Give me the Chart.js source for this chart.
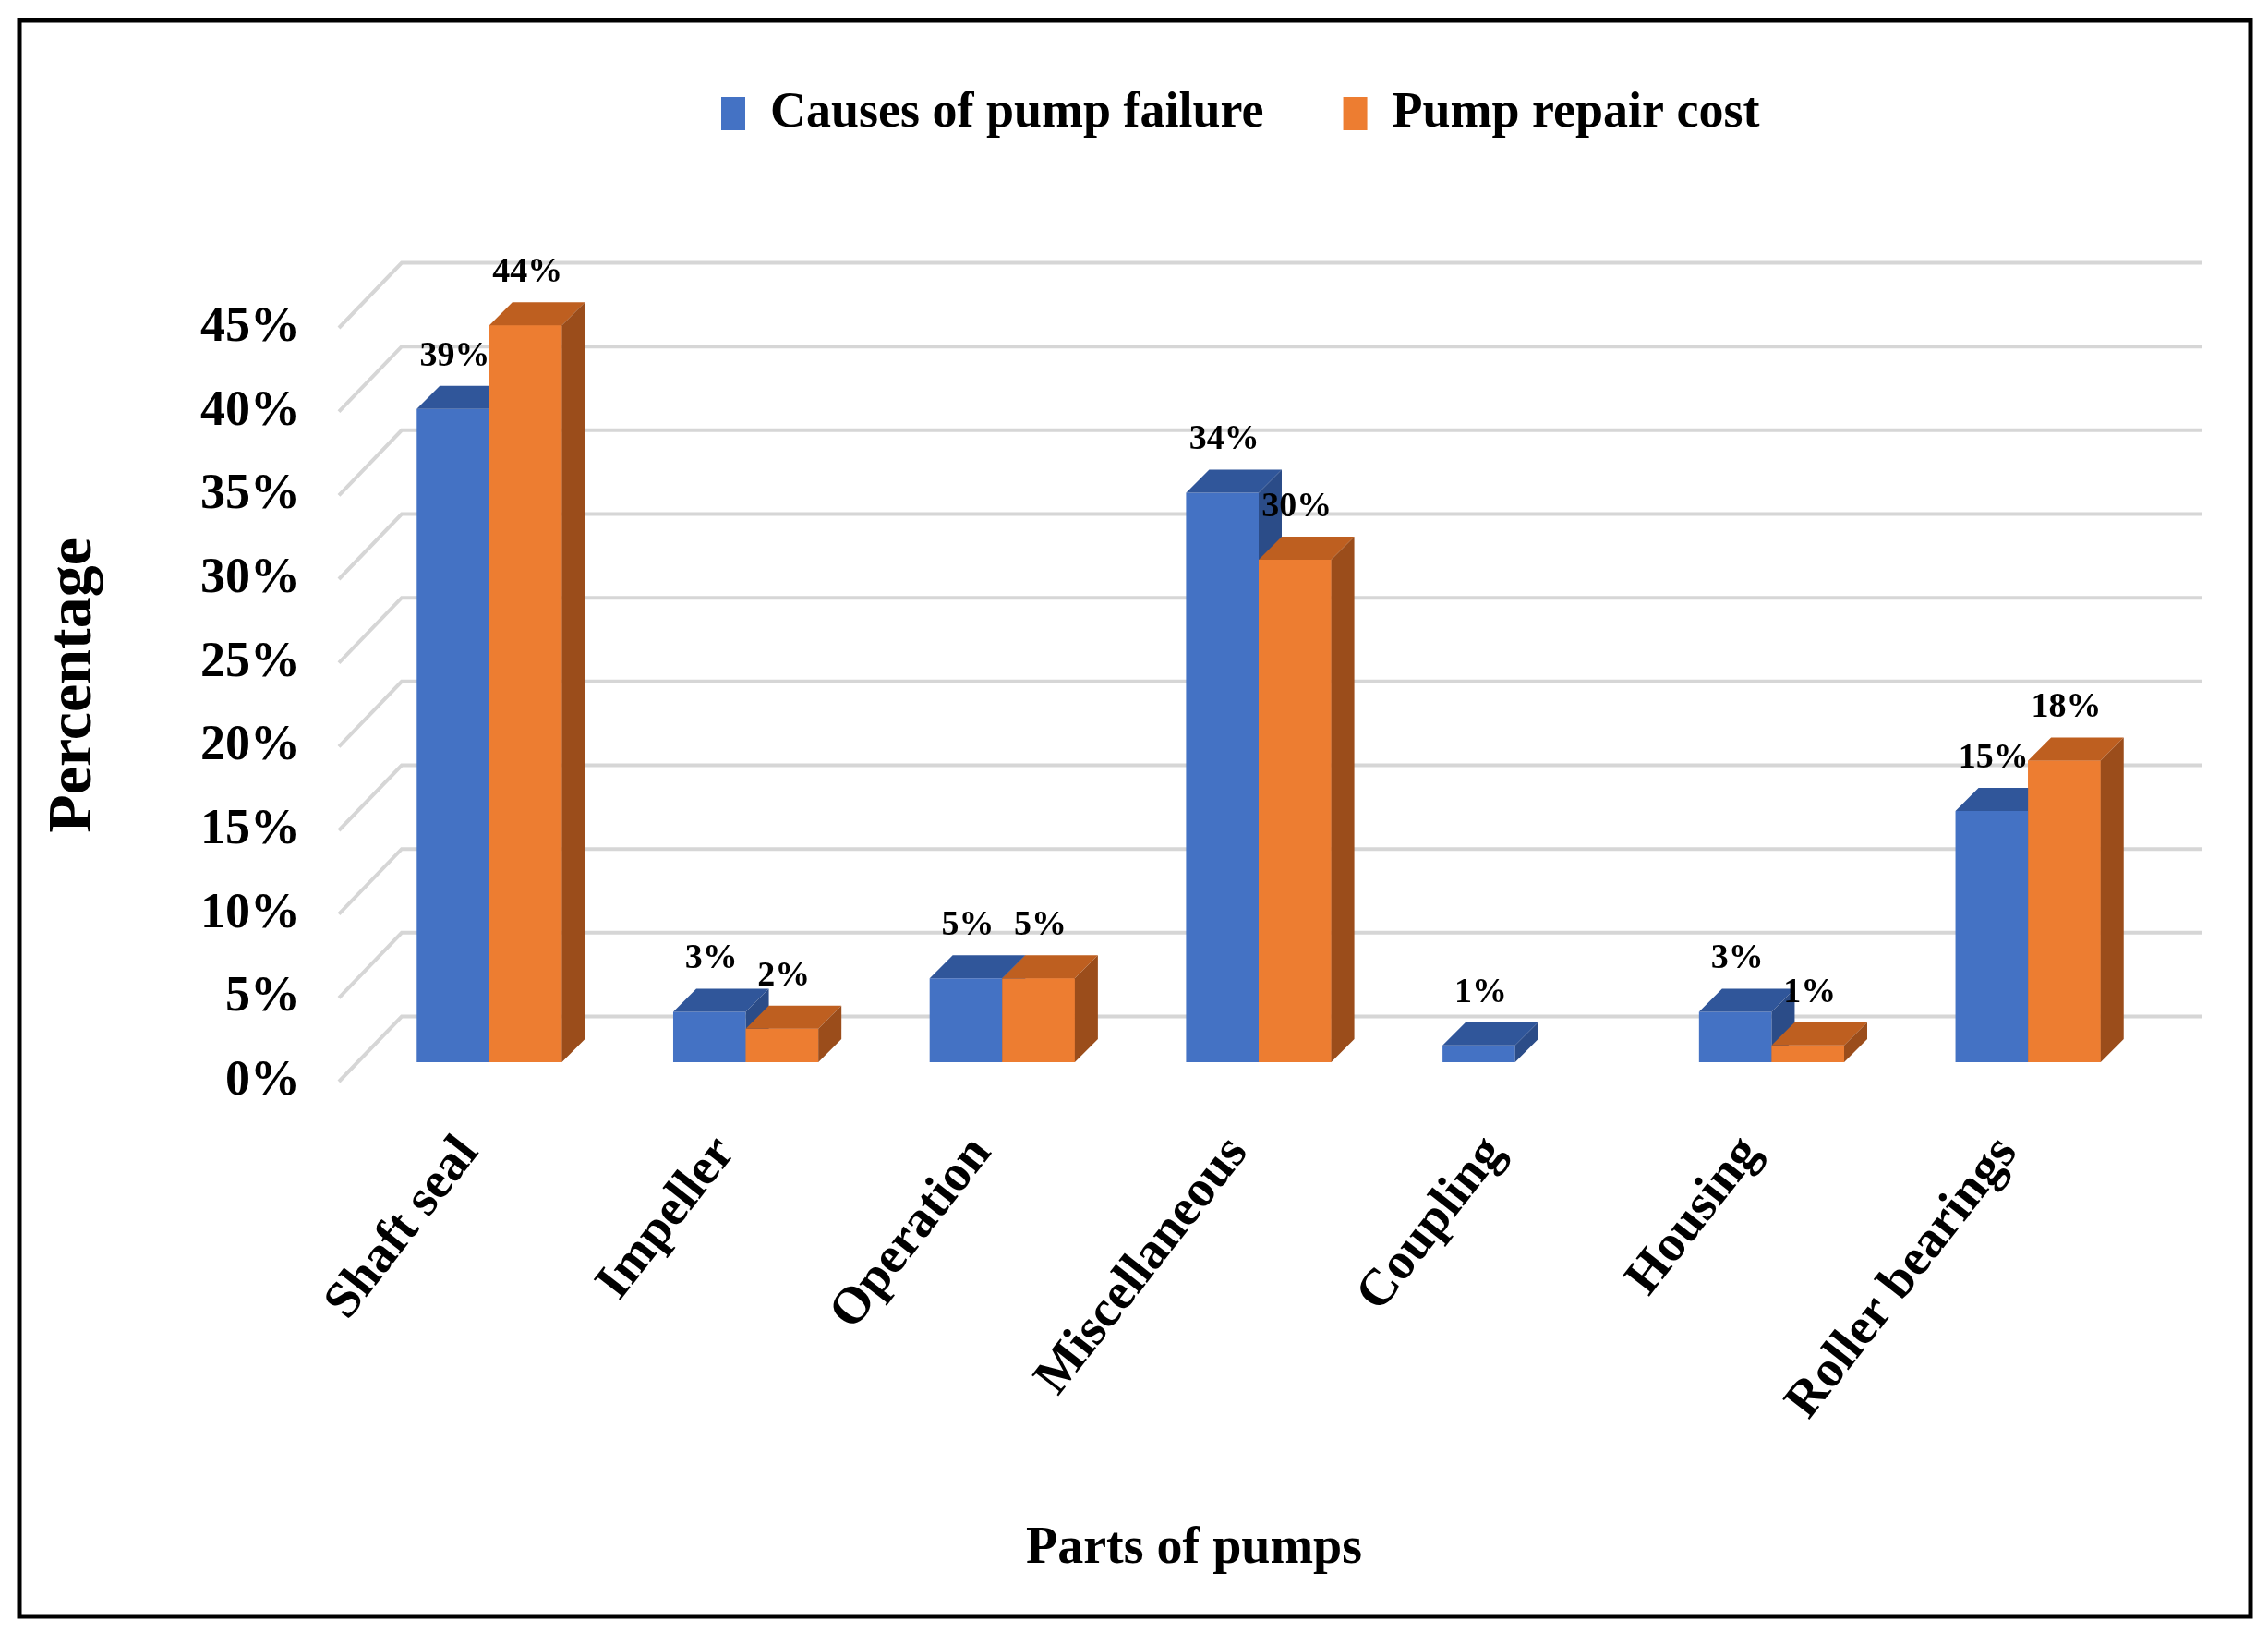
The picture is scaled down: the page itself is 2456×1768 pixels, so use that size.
<!DOCTYPE html>
<html>
<head>
<meta charset="utf-8">
<script src="https://cdn.jsdelivr.net/npm/chart.js@4.4.1/dist/chart.umd.min.js"></script>
<style>
  html, body { margin: 0; padding: 0; background: #fff; }
  #wrap { position: relative; width: 2456px; height: 1768px; }
</style>
</head>
<body>
<div id="wrap"><canvas id="myChart"></canvas></div>
<script>
// data
let parts = ['Shaft seal', 'Impeller', 'Operation', 'Miscellaneous', 'Coupling', 'Housing', 'Roller bearings'];
let failure = [39, 3, 5, 34, 1, 3, 15];
let repairCost = [44, 2, 5, 30, null, 1, 18];
let yTicks = [0, 5, 10, 15, 20, 25, 30, 35, 40, 45];
let seriesNames = ['Causes of pump failure', 'Pump repair cost'];

const FONT = "'Liberation Serif', 'Times New Roman', serif";
const DEPTH = 25;
const faces = [
    { front: '#4472C4', top: '#30569A', side: '#2B4C88' },
    { front: '#ED7D31', top: '#BE5F20', side: '#9B4D1B' }
];

// 3d look: back wall grid, top/side faces, value labels, frame
let fake3d = {
    id: 'fake3d',
    afterLayout(chart) {
        let lg = chart.legend;
        let pad = lg.options.labels.padding;
        let start = (lg.left + pad + lg.right - lg.lineWidths[0]) / 2;
        let dx = 781 - start;
        let dy = 129 - (lg.top + pad + 33);
        lg.left += dx; lg.right += dx;
        lg.top += dy; lg.bottom += dy;
    },
    beforeDatasetsDraw(chart) {
        let ctx = chart.ctx, ys = chart.scales.y, area = chart.chartArea;
        ctx.save();
        ctx.strokeStyle = '#d6d6d6';
        ctx.lineWidth = 4;
        yTicks.forEach(v => {
            let py = ys.getPixelForValue(v);
            ctx.beginPath();
            ctx.moveTo(area.left - 24, py + 21);
            ctx.lineTo(area.left + 44, py - 49.5);
            ctx.lineTo(area.right + 50, py - 49.5);
            ctx.stroke();
        });
        ctx.restore();
    },
    afterDatasetsDraw(chart) {
        let ctx = chart.ctx;
        ctx.save();
        chart.data.datasets.forEach((ds, i) => {
            let meta = chart.getDatasetMeta(i);
            meta.data.forEach((bar, j) => {
                if (ds.data[j] == null) return;
                let p = bar.getProps(['x', 'y', 'base', 'width'], true);
                let l = p.x - p.width / 2, r = p.x + p.width / 2;
                if (i > 0) {
                    ctx.fillStyle = faces[i].front;
                    ctx.fillRect(l, p.y, p.width, p.base - p.y);
                }
                ctx.fillStyle = faces[i].top;
                ctx.beginPath();
                ctx.moveTo(l, p.y);
                ctx.lineTo(r, p.y);
                ctx.lineTo(r + DEPTH, p.y - DEPTH);
                ctx.lineTo(l + DEPTH, p.y - DEPTH);
                ctx.closePath();
                ctx.fill();
                ctx.fillStyle = faces[i].side;
                ctx.beginPath();
                ctx.moveTo(r, p.y);
                ctx.lineTo(r + DEPTH, p.y - DEPTH);
                ctx.lineTo(r + DEPTH, p.base - DEPTH);
                ctx.lineTo(r, p.base);
                ctx.closePath();
                ctx.fill();
            });
        });
        ctx.fillStyle = '#000';
        ctx.font = 'bold 38px ' + FONT;
        ctx.textAlign = 'center';
        ctx.textBaseline = 'middle';
        chart.data.datasets.forEach((ds, i) => {
            chart.getDatasetMeta(i).data.forEach((bar, j) => {
                if (ds.data[j] == null) return;
                let p = bar.getProps(['x', 'y'], true);
                ctx.fillText(ds.data[j] + '%', p.x + 2, p.y - 57);
            });
        });
        ctx.restore();
    },
    afterDraw(chart) {
        let ctx = chart.ctx;
        ctx.save();
        ctx.strokeStyle = '#000';
        ctx.lineWidth = 5;
        ctx.strokeRect(21, 22, 2416, 1728);
        ctx.restore();
    }
};

let ctx = document.getElementById('myChart');
let myChart = new Chart(ctx, {
    type: 'bar',
    data: {
        labels: parts,
        datasets: [{
            label: seriesNames[0],
            data: failure,
            backgroundColor: faces[0].front,
            borderWidth: 0
        }, {
            label: seriesNames[1],
            data: repairCost,
            backgroundColor: faces[1].front,
            borderWidth: 0
        }]
    },
    options: {
        responsive: true,
        maintainAspectRatio: false,
        animation: false,
        events: [],
        categoryPercentage: 0.566,
        barPercentage: 1.0,
        layout: { padding: { left: 28, right: 121, top: 184, bottom: 20 } },
        plugins: {
            tooltip: { enabled: false },
            legend: {
                position: 'top',
                labels: {
                    color: '#000',
                    font: { family: FONT, size: 54, weight: 'bold' },
                    boxWidth: 26,
                    boxHeight: 36,
                    padding: 86
                }
            }
        },
        scales: {
            x: {
                grid: { display: false, drawTicks: false },
                border: { display: false },
                ticks: {
                    color: '#000',
                    font: { family: FONT, size: 56, weight: 'bold' },
                    minRotation: 52,
                    maxRotation: 52,
                    autoSkip: false,
                    padding: 68,
                    labelOffset: -22
                },
                title: {
                    display: true,
                    text: 'Parts of pumps          ',
                    color: '#000',
                    font: { family: FONT, size: 56, weight: 'bold' },
                    padding: { top: 0, bottom: 37 }
                },
                afterFit(s) { s.height = 598; }
            },
            y: {
                min: 0,
                max: 45,
                grid: { display: false, drawTicks: false },
                border: { display: false },
                afterBuildTicks(s) { s.ticks = yTicks.map(v => ({ value: v })); },
                ticks: {
                    color: '#000',
                    font: { family: FONT, size: 54, weight: 'bold' },
                    padding: 66,
                    labelOffset: 21,
                    callback: v => v + '%'
                },
                title: {
                    display: true,
                    text: 'Percentage',
                    color: '#000',
                    font: { family: FONT, size: 68, weight: 'bold' },
                    padding: { top: 12, bottom: 0 }
                },
                afterFit(s) { s.width = 363; }
            }
        }
    },
    plugins: [fake3d]
});
</script>
</body>
</html>
